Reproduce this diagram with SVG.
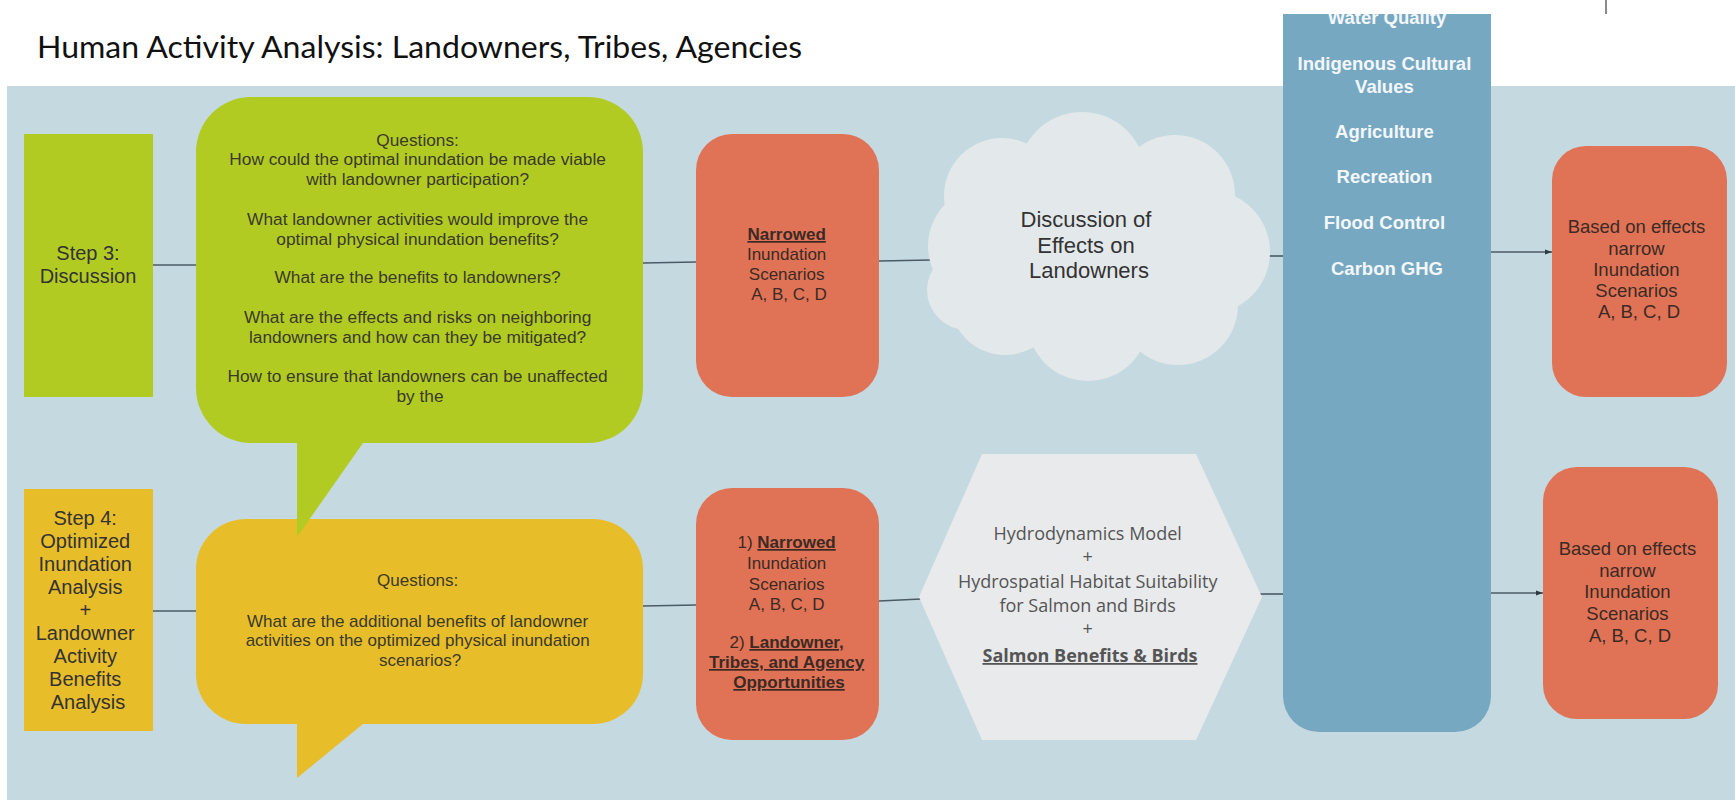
<svg xmlns="http://www.w3.org/2000/svg" width="1735" height="802" viewBox="0 0 1735 802">
  <defs>
    <style>
      .step { font-family: "Liberation Sans", Arial, sans-serif; font-size: 20px; fill: #333; text-anchor: middle; }
      .q { font-family: "Liberation Sans", Arial, sans-serif; font-size: 17.3px; fill: #3a3a2a; text-anchor: middle; }
      .q4 { font-family: "Liberation Sans", Arial, sans-serif; font-size: 17px; fill: #3a3a2a; text-anchor: middle; }
      .orange { font-family: "Liberation Sans", Arial, sans-serif; font-size: 17px; fill: #3b2a25; text-anchor: middle; }
      .bu { font-weight: bold; text-decoration: underline; }
      .cloudtxt { font-family: "Liberation Sans", Arial, sans-serif; font-size: 22px; fill: #333; text-anchor: middle; }
      .hex { font-family: "Open Sans", "Liberation Sans", sans-serif; font-size: 18px; fill: #555; text-anchor: middle; }
      .col { font-family: "Liberation Sans", Arial, sans-serif; font-size: 18.5px; font-weight: bold; fill: #f3f7fa; text-anchor: middle; }
      .res { font-family: "Liberation Sans", Arial, sans-serif; font-size: 18.5px; fill: #3b2a25; text-anchor: middle; }
      .conn { stroke: #4b5b66; stroke-width: 1.6; fill: none; }
    </style>
    <marker id="arrow" viewBox="0 0 10 10" refX="10" refY="5" markerWidth="7" markerHeight="7" orient="auto" markerUnits="userSpaceOnUse">
      <path d="M0,1.5 L10,5 L0,8.5 Z" fill="#2d3a44"/>
    </marker>
    <clipPath id="colClip">
      <rect x="1283" y="14" width="208" height="720"/>
    </clipPath>
  </defs>

  <rect x="0" y="0" width="1735" height="802" fill="#ffffff"/>

  <!-- title -->
  <text x="37" y="58" font-family="Lato, 'Open Sans', sans-serif" font-size="30" fill="#111" textLength="765" lengthAdjust="spacingAndGlyphs">Human Activity Analysis: Landowners, Tribes, Agencies</text>

  <!-- small divider mark at top right -->
  <line x1="1606" y1="0" x2="1606" y2="14" stroke="#8a8a8a" stroke-width="2"/>

  <!-- background panel -->
  <rect x="7" y="86" width="1728" height="714" fill="#c5d9e1"/>

  <!-- connectors -->
  <g id="connectors" class="conn">
    <line x1="153" y1="265" x2="196" y2="265"/>
    <line x1="643" y1="263" x2="696" y2="262"/>
    <line x1="879" y1="261" x2="931" y2="260"/>
    <line x1="1260" y1="256" x2="1283" y2="256"/>
    <line x1="1491" y1="252" x2="1552" y2="252" marker-end="url(#arrow)"/>
    <line x1="153" y1="611" x2="196" y2="611"/>
    <line x1="643" y1="606" x2="696" y2="605"/>
    <line x1="879" y1="601" x2="921" y2="599"/>
    <line x1="1260" y1="594" x2="1283" y2="594"/>
    <line x1="1491" y1="593" x2="1543" y2="593" marker-end="url(#arrow)"/>
  </g>

  <!-- Step 3 -->
  <g id="step3">
    <rect x="24" y="134" width="129" height="263" fill="#b2cb23"/>
    <text class="step" x="88" y="260">Step 3:</text>
    <text class="step" x="88" y="283">Discussion</text>
  </g>

  <!-- Step 4 -->
  <g id="step4">
    <rect x="24" y="489" width="129" height="242" fill="#e8bd2a"/>
    <text class="step">
      <tspan x="88" y="525">Step 4:</tspan>
      <tspan x="88" y="548">Optimized</tspan>
      <tspan x="88" y="571">Inundation</tspan>
      <tspan x="88" y="594">Analysis</tspan>
      <tspan x="88" y="617">+</tspan>
      <tspan x="88" y="640">Landowner</tspan>
      <tspan x="88" y="663">Activity</tspan>
      <tspan x="88" y="686">Benefits</tspan>
      <tspan x="88" y="709">Analysis</tspan>
    </text>
  </g>

  <!-- Step 4 questions bubble -->
  <g id="questions4">
    <path d="M246,519 H593 A50,50 0 0 1 643,569 V674 A50,50 0 0 1 593,724 H363 L297,778 V724 H246 A50,50 0 0 1 196,674 V569 A50,50 0 0 1 246,519 Z" fill="#e8bd2a"/>
    <text class="q4">
      <tspan x="420" y="586">Questions:</tspan>
      <tspan x="420" y="627">What are the additional benefits of landowner</tspan>
      <tspan x="420" y="646">activities on the optimized physical inundation</tspan>
      <tspan x="420" y="666">scenarios?</tspan>
    </text>
  </g>

  <!-- Step 3 questions bubble -->
  <g id="questions3">
    <path d="M251,97 H588 A55,55 0 0 1 643,152 V388 A55,55 0 0 1 588,443 H363 L297,537 V443 H251 A55,55 0 0 1 196,388 V152 A55,55 0 0 1 251,97 Z" fill="#b2cb23"/>
    <text class="q">
      <tspan x="420" y="146">Questions:</tspan>
      <tspan x="420" y="165">How could the optimal inundation be made viable</tspan>
      <tspan x="420" y="185">with landowner participation?</tspan>
      <tspan x="420" y="225">What landowner activities would improve the</tspan>
      <tspan x="420" y="245">optimal physical inundation benefits?</tspan>
      <tspan x="420" y="283">What are the benefits to landowners?</tspan>
      <tspan x="420" y="323">What are the effects and risks on neighboring</tspan>
      <tspan x="420" y="343">landowners and how can they be mitigated?</tspan>
      <tspan x="420" y="382">How to ensure that landowners can be unaffected</tspan>
      <tspan x="420" y="402">by the</tspan>
    </text>
  </g>

  <!-- narrowed scenarios (step 3) -->
  <g id="narrowed3">
    <rect x="696" y="134" width="183" height="263" rx="36" fill="#e07355"/>
    <text class="orange">
      <tspan x="789" y="240" class="bu">Narrowed</tspan>
      <tspan x="789" y="260">Inundation</tspan>
      <tspan x="789" y="280">Scenarios</tspan>
      <tspan x="789" y="300">A, B, C, D</tspan>
    </text>
  </g>

  <!-- narrowed scenarios + opportunities (step 4) -->
  <g id="narrowed4">
    <rect x="696" y="488" width="183" height="252" rx="36" fill="#e07355"/>
    <text class="orange">
      <tspan x="789" y="548">1) <tspan class="bu">Narrowed</tspan></tspan>
      <tspan x="789" y="569">Inundation</tspan>
      <tspan x="789" y="590">Scenarios</tspan>
      <tspan x="789" y="610">A, B, C, D</tspan>
      <tspan x="789" y="648">2) <tspan class="bu">Landowner,</tspan></tspan>
      <tspan x="789" y="668" class="bu">Tribes, and Agency</tspan>
      <tspan x="789" y="688" class="bu">Opportunities</tspan>
    </text>
  </g>

  <!-- cloud: discussion of effects -->
  <g id="effectsCloud" fill="#e3e8ea">
    <ellipse cx="1095" cy="250" rx="135" ry="100"/>
    <circle cx="1082" cy="176" r="64"/>
    <circle cx="1002" cy="196" r="58"/>
    <circle cx="1175" cy="195" r="60"/>
    <circle cx="987" cy="246" r="59"/>
    <circle cx="1208" cy="252" r="62"/>
    <circle cx="967" cy="290" r="40"/>
    <circle cx="1005" cy="300" r="55"/>
    <circle cx="1088" cy="320" r="61"/>
    <circle cx="1178" cy="305" r="60"/>
    <text class="cloudtxt">
      <tspan x="1089" y="227">Discussion of</tspan>
      <tspan x="1089" y="253">Effects on</tspan>
      <tspan x="1089" y="278">Landowners</tspan>
    </text>
  </g>

  <!-- hexagon: models -->
  <g id="models">
    <polygon points="919,597 982,454 1196,454 1262,597 1196,740 982,740" fill="#e8eaeb"/>
    <text class="hex">
      <tspan x="1090" y="540">Hydrodynamics Model</tspan>
      <tspan x="1090" y="563">+</tspan>
      <tspan x="1090" y="588">Hydrospatial Habitat Suitability</tspan>
      <tspan x="1090" y="612">for Salmon and Birds</tspan>
      <tspan x="1090" y="635">+</tspan>
      <tspan x="1090" y="662" font-weight="bold" text-decoration="underline">Salmon Benefits &amp; Birds</tspan>
    </text>
  </g>

  <!-- value categories column -->
  <g id="values">
    <path d="M1283,14 H1491 V696 A36,36 0 0 1 1455,732 H1319 A36,36 0 0 1 1283,696 Z" fill="#77a8c2"/>
    <g clip-path="url(#colClip)">
      <text class="col" x="1387" y="24">Water Quality</text>
    </g>
    <text class="col">
      <tspan x="1387" y="70">Indigenous Cultural</tspan>
      <tspan x="1387" y="93">Values</tspan>
      <tspan x="1387" y="138">Agriculture</tspan>
      <tspan x="1387" y="183">Recreation</tspan>
      <tspan x="1387" y="229">Flood Control</tspan>
      <tspan x="1387" y="275">Carbon GHG</tspan>
    </text>
  </g>

  <!-- result boxes -->
  <g id="result3">
    <rect x="1552" y="146" width="175" height="251" rx="34" fill="#e07355"/>
    <text class="res">
      <tspan x="1639" y="233">Based on effects</tspan>
      <tspan x="1639" y="255">narrow</tspan>
      <tspan x="1639" y="276">Inundation</tspan>
      <tspan x="1639" y="297">Scenarios</tspan>
      <tspan x="1639" y="318">A, B, C, D</tspan>
    </text>
  </g>

  <g id="result4">
    <rect x="1543" y="467" width="175" height="252" rx="34" fill="#e07355"/>
    <text class="res">
      <tspan x="1630" y="555">Based on effects</tspan>
      <tspan x="1630" y="577">narrow</tspan>
      <tspan x="1630" y="598">Inundation</tspan>
      <tspan x="1630" y="620">Scenarios</tspan>
      <tspan x="1630" y="642">A, B, C, D</tspan>
    </text>
  </g>
</svg>
